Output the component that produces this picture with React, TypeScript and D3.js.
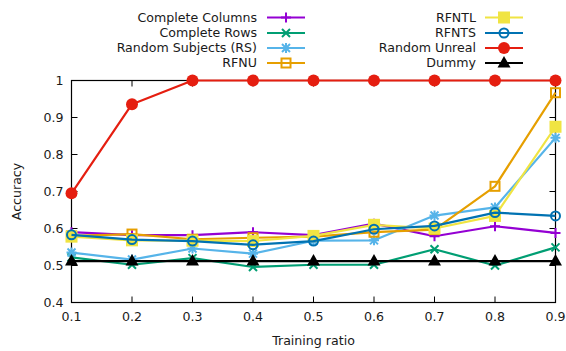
import React from "react";
import * as d3 from "d3";

const ratios = [0.1, 0.2, 0.3, 0.4, 0.5, 0.6, 0.7, 0.8, 0.9];
const completeColumns = [0.59, 0.582, 0.582, 0.59, 0.582, 0.613, 0.579, 0.606, 0.588];
const completeRows = [0.522, 0.502, 0.52, 0.496, 0.502, 0.502, 0.544, 0.5, 0.549];
const randomSubjects = [0.535, 0.516, 0.546, 0.532, 0.567, 0.568, 0.635, 0.657, 0.845];
const rfnu = [0.58, 0.585, 0.571, 0.575, 0.578, 0.59, 0.597, 0.714, 0.967];
const rfntl = [0.578, 0.568, 0.567, 0.566, 0.58, 0.61, 0.6, 0.634, 0.875];
const rfnts = [0.583, 0.57, 0.566, 0.556, 0.566, 0.598, 0.607, 0.643, 0.634];
const randomUnreal = [0.695, 0.936, 1, 1, 1, 1, 1, 1, 1];
const dummy = [0.512, 0.512, 0.512, 0.512, 0.512, 0.512, 0.512, 0.512, 0.512];

const xTicks = [0.1, 0.2, 0.3, 0.4, 0.5, 0.6, 0.7, 0.8, 0.9];
const yTicks = [0.4, 0.5, 0.6, 0.7, 0.8, 0.9, 1];

type Marker = "plus" | "cross" | "star" | "squareOpen" | "squareFill" | "circleOpen" | "circleFill" | "triangle";

const series: { name: string; values: number[]; color: string; marker: Marker }[] = [
  { name: "Complete Columns", values: completeColumns, color: "#9400d3", marker: "plus" },
  { name: "Complete Rows", values: completeRows, color: "#009e73", marker: "cross" },
  { name: "Random Subjects (RS)", values: randomSubjects, color: "#56b4e9", marker: "star" },
  { name: "RFNU", values: rfnu, color: "#e69f00", marker: "squareOpen" },
  { name: "RFNTL", values: rfntl, color: "#f0e442", marker: "squareFill" },
  { name: "RFNTS", values: rfnts, color: "#0072b2", marker: "circleOpen" },
  { name: "Random Unreal", values: randomUnreal, color: "#e51e10", marker: "circleFill" },
  { name: "Dummy", values: dummy, color: "#000000", marker: "triangle" },
];

const W = 566;
const H = 351;
const left = 71.5;
const right = 555.5;
const top = 80.5;
const bottom = 302.5;
const FONT = "DejaVu Sans, sans-serif";
const FS = 12.6;

const x = d3.scaleLinear().domain([0.1, 0.9]).range([left, right]);
const y = d3.scaleLinear().domain([0.4, 1]).range([bottom, top]);

function MarkerShape({ kind, cx, cy, color }: { kind: Marker; cx: number; cy: number; color: string }) {
  const s = 5;
  const sw = 2;
  switch (kind) {
    case "plus":
      return (
        <path d={`M${cx - s},${cy}H${cx + s}M${cx},${cy - s}V${cy + s}`} stroke={color} strokeWidth={sw} fill="none" />
      );
    case "cross":
      return (
        <path
          d={`M${cx - 4},${cy - 4}L${cx + 4},${cy + 4}M${cx - 4},${cy + 4}L${cx + 4},${cy - 4}`}
          stroke={color}
          strokeWidth={sw}
          fill="none"
        />
      );
    case "star":
      return (
        <path
          d={`M${cx - s},${cy}H${cx + s}M${cx},${cy - s}V${cy + s}M${cx - 4},${cy - 4}L${cx + 4},${cy + 4}M${cx - 4},${cy + 4}L${cx + 4},${cy - 4}`}
          stroke={color}
          strokeWidth={sw}
          fill="none"
        />
      );
    case "squareOpen":
      return <rect x={cx - 4.5} y={cy - 4.5} width={9} height={9} stroke={color} strokeWidth={sw} fill="none" />;
    case "squareFill":
      return <rect x={cx - 6} y={cy - 6} width={12} height={12} fill={color} />;
    case "circleOpen":
      return <circle cx={cx} cy={cy} r={4.5} stroke={color} strokeWidth={sw} fill="none" />;
    case "circleFill":
      return <circle cx={cx} cy={cy} r={6} fill={color} />;
    case "triangle":
      return <path d={`M${cx},${cy - 7}L${cx + 6.5},${cy + 4.5}L${cx - 6.5},${cy + 4.5}Z`} fill={color} />;
  }
}

export default function App() {
  const line = d3
    .line<number>()
    .x((_, i) => x(ratios[i]))
    .y((v) => y(v));

  const legendRows = [17.5, 33, 48, 63];

  return (
    <svg width={W} height={H} style={{ position: "absolute", left: 0, top: 0, background: "#fff" }} fontFamily={FONT}>
      {/* legend */}
      {series.map((s, i) => {
        const col = i < 4 ? 0 : 1;
        const row = i % 4;
        const textRight = col === 0 ? 257 : 476;
        const lx0 = col === 0 ? 267 : 485;
        const lx1 = lx0 + 38;
        const ly = legendRows[row];
        return (
          <g key={s.name}>
            <text x={textRight} y={ly} dy="0.35em" textAnchor="end" fontSize={FS} fill="#1a1a1a">
              {s.name}
            </text>
            <line x1={lx0} x2={lx1} y1={ly} y2={ly} stroke={s.color} strokeWidth={2.2} />
            <MarkerShape kind={s.marker} cx={(lx0 + lx1) / 2} cy={ly} color={s.color} />
          </g>
        );
      })}

      {/* ticks (mirrored on all four sides, pointing inward) */}
      {xTicks.map((t) => (
        <g key={`xt${t}`}>
          <line x1={x(t)} x2={x(t)} y1={bottom} y2={bottom - 6} stroke="#000" strokeWidth={1} />
          <line x1={x(t)} x2={x(t)} y1={top} y2={top + 6} stroke="#000" strokeWidth={1} />
          <text x={x(t)} y={bottom + 14} textAnchor="middle" fontSize={FS} fill="#1a1a1a" dy="0.35em">
            {t.toString()}
          </text>
        </g>
      ))}
      {yTicks.map((t) => (
        <g key={`yt${t}`}>
          <line x1={left} x2={left + 6} y1={y(t)} y2={y(t)} stroke="#000" strokeWidth={1} />
          <line x1={right} x2={right - 6} y1={y(t)} y2={y(t)} stroke="#000" strokeWidth={1} />
          <text x={left - 8} y={y(t)} textAnchor="end" fontSize={FS} fill="#1a1a1a" dy="0.35em">
            {t.toString()}
          </text>
        </g>
      ))}

      {/* frame */}
      <rect x={left} y={top} width={right - left} height={bottom - top} fill="none" stroke="#000" strokeWidth={1.2} />

      {/* data */}
      {series.map((s) => (
        <g key={`s-${s.name}`}>
          <path d={line(s.values) || ""} fill="none" stroke={s.color} strokeWidth={2.2} strokeLinejoin="round" />
          {s.values.map((v, i) => (
            <MarkerShape key={i} kind={s.marker} cx={x(ratios[i])} cy={y(v)} color={s.color} />
          ))}
        </g>
      ))}

      {/* axis titles */}
      <text x={(left + right) / 2} y={340.5} textAnchor="middle" dy="0.35em" fontSize={FS} fill="#1a1a1a">
        Training ratio
      </text>
      <text
        transform={`translate(17,${(top + bottom) / 2}) rotate(-90)`}
        textAnchor="middle"
        dy="0.35em"
        fontSize={FS}
        fill="#1a1a1a"
      >
        Accuracy
      </text>
    </svg>
  );
}
